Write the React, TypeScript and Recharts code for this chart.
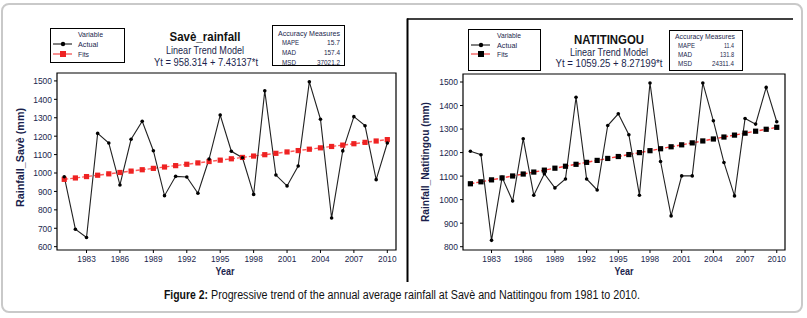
import React from 'react';
import { LineChart, Line, XAxis, YAxis, ReferenceArea } from 'recharts';

const years = [1981, 1982, 1983, 1984, 1985, 1986, 1987, 1988, 1989, 1990, 1991, 1992, 1993, 1994, 1995, 1996, 1997, 1998, 1999, 2000, 2001, 2002, 2003, 2004, 2005, 2006, 2007, 2008, 2009, 2010];
const yearTicks = [1983, 1986, 1989, 1992, 1995, 1998, 2001, 2004, 2007, 2010];

const saveActual = [980, 695, 650, 1215, 1163, 935, 1183, 1281, 1121, 877, 982, 978, 890, 1076, 1315, 1118, 1083, 884, 1446, 989, 930, 1038, 1495, 1292, 756, 1120, 1306, 1257, 964, 1163];
const saveFits = [965.7, 973.2, 980.6, 988.0, 995.5, 1002.9, 1010.3, 1017.8, 1025.2, 1032.6, 1040.1, 1047.5, 1054.9, 1062.4, 1069.8, 1077.2, 1084.6, 1092.1, 1099.5, 1106.9, 1114.4, 1121.8, 1129.2, 1136.7, 1144.1, 1151.5, 1159.0, 1166.4, 1173.8, 1181.3];
const saveTicks = [600, 700, 800, 900, 1000, 1100, 1200, 1300, 1400, 1500];

const natiActual = [1206, 1191, 827, 1095, 994, 1259, 1019, 1110, 1050, 1088, 1435, 1088, 1041, 1315, 1365, 1276, 1019, 1496, 1162, 931, 1101, 1101, 1496, 1335, 1158, 1016, 1345, 1321, 1477, 1331];
const natiFits = [1067.5, 1075.8, 1084.1, 1092.3, 1100.6, 1108.9, 1117.2, 1125.4, 1133.7, 1142.0, 1150.2, 1158.5, 1166.8, 1175.1, 1183.3, 1191.6, 1199.9, 1208.1, 1216.4, 1224.7, 1233.0, 1241.2, 1249.5, 1257.8, 1266.1, 1274.3, 1282.6, 1290.9, 1299.1, 1307.4];
const natiTicks = [800, 900, 1000, 1100, 1200, 1300, 1400, 1500];

const saveData = years.map((year, i) => ({ year, actual: saveActual[i], fits: saveFits[i] }));
const natiData = years.map((year, i) => ({ year, actual: natiActual[i], fits: natiFits[i] }));

const FONT = '"Liberation Sans", Arial, sans-serif';
const NAVY = '#1b1f4d';

// narrow tick text, like the squeezed Minitab export
const XTick: React.FC<any> = ({ x, y, payload }) => (
  <text x={x} y={y} dy="0.75em" textAnchor="middle" fontSize={9.5} fill={NAVY} fontFamily={FONT}
    textLength={18.5} lengthAdjust="spacingAndGlyphs">{payload.value}</text>
);

const YTick: React.FC<any> = ({ x, y, payload }) => {
  const s = String(payload.value);
  return (
    <text x={x} y={y} dy="0.36em" textAnchor="end" fontSize={9.5} fill={NAVY} fontFamily={FONT}
      textLength={s.length * 4.7} lengthAdjust="spacingAndGlyphs">{s}</text>
  );
};

const squareDot = (color: string) => (props: any) => {
  const { cx, cy, index } = props;
  if (cx == null || cy == null) return <g key={`sq-${index}`} />;
  return <rect key={`sq-${index}`} x={cx - 2.6} y={cy - 2.6} width={5.2} height={5.2} fill={color} />;
};

interface PanelProps {
  data: any[];
  xDomain: [number, number];
  yDomain: [number, number];
  yTicks: number[];
  margin: { top: number; right: number; left: number; bottom: number };
  fitsLine: string;
  fitsMarker: string;
}

const Panel: React.FC<PanelProps> = ({ data, xDomain, yDomain, yTicks, margin, fitsLine, fitsMarker }) => (
  <LineChart width={400} height={300} data={data} margin={margin}>
    <XAxis
      dataKey="year"
      type="number"
      domain={xDomain}
      ticks={yearTicks}
      interval={0}
      allowDataOverflow
      axisLine={false}
      tickSize={3}
      tickLine={{ stroke: '#000' }}
      height={30}
      tick={<XTick />}
    />
    <YAxis
      type="number"
      domain={yDomain}
      ticks={yTicks}
      interval={0}
      allowDataOverflow
      axisLine={false}
      tickSize={3}
      tickLine={{ stroke: '#000' }}
      width={30}
      tick={<YTick />}
    />
    <ReferenceArea x1={xDomain[0]} x2={xDomain[1]} y1={yDomain[0]} y2={yDomain[1]} fill="none" stroke="#000" strokeWidth={1.2} fillOpacity={0} />
    <Line
      dataKey="fits"
      stroke={fitsLine}
      strokeWidth={1.4}
      strokeDasharray="4 2"
      dot={squareDot(fitsMarker)}
      isAnimationActive={false}
    />
    <Line
      dataKey="actual"
      stroke="#222"
      strokeWidth={1.1}
      dot={{ r: 1.8, fill: '#000', stroke: '#000', strokeWidth: 0 }}
      isAnimationActive={false}
    />
  </LineChart>
);

const small = { fontSize: 8, fill: NAVY, fontFamily: FONT, lengthAdjust: 'spacingAndGlyphs' as const };

const App: React.FC = () => {
  return (
    <div style={{ position: 'absolute', left: 0, top: 0, width: 807, height: 318, background: '#fff', fontFamily: FONT }}>
      <div style={{ position: 'absolute', left: 0, top: 0 }}>
        <Panel
          data={saveData}
          xDomain={[1980.35, 2010.78]}
          yDomain={[582, 1543]}
          yTicks={saveTicks}
          margin={{ top: 73, right: 4, left: 27, bottom: 20 }}
          fitsLine="#ff5a5a"
          fitsMarker="#ee2222"
        />
      </div>
      <div style={{ position: 'absolute', left: 400, top: 0 }}>
        <Panel
          data={natiData}
          xDomain={[1980.3, 2010.78]}
          yDomain={[786, 1534]}
          yTicks={natiTicks}
          margin={{ top: 74, right: 15, left: 33, bottom: 20 }}
          fitsLine="#ff3b3b"
          fitsMarker="#000"
        />
      </div>
      <svg width={807} height={318} style={{ position: 'absolute', left: 0, top: 0, pointerEvents: 'none' }}>
        <defs>
          <clipPath id="legClip">
            <rect x={50} y={28} width={75} height={29} />
          </clipPath>
        </defs>
        {/* outer figure frame */}
        <rect x={2} y={4} width={800} height={308} rx={7} fill="none" stroke="#c9c9c9" strokeWidth={2} />
        {/* right panel frame */}
        <line x1={407} y1={19} x2={793} y2={19} stroke="#000" strokeWidth={1.5} />
        <line x1={407.5} y1={18.5} x2={407.5} y2={282} stroke="#000" strokeWidth={2} />

        {/* left header */}
        <rect x={50.5} y={28.5} width={74} height={34} fill="#fff" stroke="#000" strokeWidth={1} />
        <g clipPath="url(#legClip)">
          <text x={78} y={37} textLength={25} {...small}>Variable</text>
          <line x1={53} y1={44} x2={72} y2={44} stroke="#000" strokeWidth={1} />
          <circle cx={63} cy={44} r={2.2} fill="#000" />
          <text x={78} y={47} textLength={20} {...small}>Actual</text>
          <line x1={53} y1={54} x2={72} y2={54} stroke="#ee2222" strokeWidth={1} />
          <rect x={60} y={51} width={6} height={6} fill="#ee2222" />
          <text x={78} y={57} textLength={11} {...small}>Fits</text>
        </g>
        <text x={205} y={41} textAnchor="middle" fontSize={12.5} fontWeight="bold" fill="#111" fontFamily={FONT}
          textLength={71} lengthAdjust="spacingAndGlyphs">Savè_rainfall</text>
        <text x={205} y={54} textAnchor="middle" fontSize={10} fill={NAVY} fontFamily={FONT}
          textLength={78} lengthAdjust="spacingAndGlyphs">Linear Trend Model</text>
        <text x={206} y={65.5} textAnchor="middle" fontSize={10} fill={NAVY} fontFamily={FONT}
          textLength={104} lengthAdjust="spacingAndGlyphs">Yt = 958.314 + 7.43137*t</text>
        <rect x={272.5} y={25.5} width={72} height={40} fill="#fff" stroke="#000" strokeWidth={1} />
        <text x={278} y={35.5} textLength={62} {...small}>Accuracy Measures</text>
        <text x={282} y={45} textLength={17} {...small}>MAPE</text>
        <text x={340} y={45} textAnchor="end" textLength={13} {...small}>15.7</text>
        <text x={282} y={55} textLength={14} {...small}>MAD</text>
        <text x={340} y={55} textAnchor="end" textLength={16} {...small}>157.4</text>
        <text x={282} y={64.5} textLength={14} {...small}>MSD</text>
        <text x={340} y={64.5} textAnchor="end" textLength={23} {...small}>37021.2</text>

        {/* right header */}
        <rect x={468.5} y={29.5} width={72} height={41} fill="#fff" stroke="#000" strokeWidth={1} />
        <text x={497} y={38} textLength={24} {...small}>Variable</text>
        <line x1={471} y1={45} x2={490} y2={45} stroke="#000" strokeWidth={1} />
        <circle cx={481} cy={45} r={2.2} fill="#000" />
        <text x={497} y={48} textLength={20} {...small}>Actual</text>
        <line x1={471} y1={54} x2={490} y2={54} stroke="#ee2222" strokeWidth={1} />
        <rect x={478} y={51} width={6} height={6} fill="#000" />
        <text x={497} y={57} textLength={11} {...small}>Fits</text>
        <text x={609} y={43.5} textAnchor="middle" fontSize={12.5} fontWeight="bold" fill="#111" fontFamily={FONT}
          textLength={70} lengthAdjust="spacingAndGlyphs">NATITINGOU</text>
        <text x={609} y={55.5} textAnchor="middle" fontSize={10} fill={NAVY} fontFamily={FONT}
          textLength={78} lengthAdjust="spacingAndGlyphs">Linear Trend Model</text>
        <text x={609} y={67} textAnchor="middle" fontSize={10} fill={NAVY} fontFamily={FONT}
          textLength={107} lengthAdjust="spacingAndGlyphs">Yt = 1059.25 + 8.27199*t</text>
        <rect x={669.5} y={30.5} width={73} height={40} fill="#fff" stroke="#000" strokeWidth={1} />
        <text x={675} y={39} textLength={60} {...small}>Accuracy Measures</text>
        <text x={678} y={48} textLength={17} {...small}>MAPE</text>
        <text x={734} y={48} textAnchor="end" textLength={10} {...small}>11.4</text>
        <text x={678} y={57} textLength={14} {...small}>MAD</text>
        <text x={734} y={57} textAnchor="end" textLength={14} {...small}>131.8</text>
        <text x={678} y={66} textLength={14} {...small}>MSD</text>
        <text x={734} y={66} textAnchor="end" textLength={22} {...small}>24311.4</text>

        {/* axis titles */}
        <text transform="translate(24,157.5) rotate(-90)" textAnchor="middle" fontSize={10.5} fontWeight="bold" fill={NAVY} fontFamily={FONT}
          textLength={99} lengthAdjust="spacingAndGlyphs">Rainfall_Savè (mm)</text>
        <text x={225} y={275} textAnchor="middle" fontSize={10.5} fontWeight="bold" fill={NAVY} fontFamily={FONT}
          textLength={19} lengthAdjust="spacingAndGlyphs">Year</text>
        <text transform="translate(429,162) rotate(-90)" textAnchor="middle" fontSize={10.5} fontWeight="bold" fill={NAVY} fontFamily={FONT}
          textLength={120} lengthAdjust="spacingAndGlyphs">Rainfall_Natitingou (mm)</text>
        <text x={624} y={275} textAnchor="middle" fontSize={10.5} fontWeight="bold" fill={NAVY} fontFamily={FONT}
          textLength={19} lengthAdjust="spacingAndGlyphs">Year</text>

        {/* caption */}
        <text x={164} y={299} fontSize={12} fontWeight="bold" fill="#111" fontFamily={FONT}
          textLength={44} lengthAdjust="spacingAndGlyphs">Figure 2:</text>
        <text x={211} y={299} fontSize={12} fill="#111" fontFamily={FONT}
          textLength={429} lengthAdjust="spacingAndGlyphs">Progressive trend of the annual average rainfall at Savè and Natitingou from 1981 to 2010.</text>
      </svg>
    </div>
  );
};

export default App;
